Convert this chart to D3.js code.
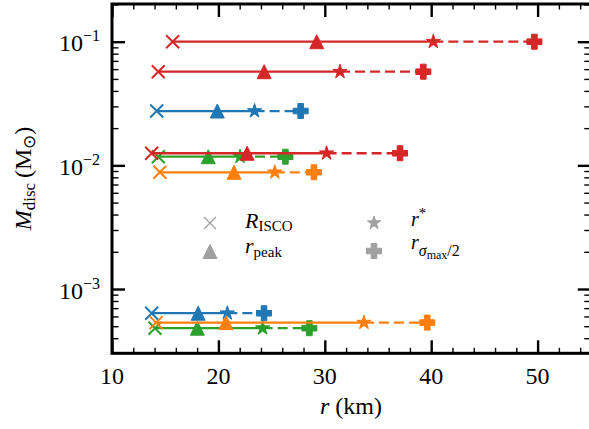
<!DOCTYPE html>
<html>
<head>
<meta charset="utf-8">
<script src="https://cdn.jsdelivr.net/npm/d3@7"></script>
<style>
  body { margin: 0; background: #fff; }
  svg { display: block; }
</style>
</head>
<body>
<svg id="chart" width="589" height="429"></svg>
<script>
// Disc mass against characteristic radii, one row per model.
const palette = { blue: "#1f77b4", orange: "#ff7f0e", green: "#2ca02c", red: "#d62728" };
const rowColors  = ["green", "green", "blue", "blue", "orange", "orange", "red", "red", "red"];
const discMass   = [0.01175, 4.82e-4, 0.0275, 6.37e-4, 0.00879, 5.35e-4, 0.1, 0.0572, 0.01253];
const rISCO      = [14.35, 14.04, 14.2, 13.73, 14.5, 14.14, 15.7, 14.35, 13.73];
const rPeak      = [19.05, 18.02, 19.9, 18.1, 21.47, 20.71, 29.24, 24.3, 22.7];
const rStar      = [22.03, 24.16, 23.4, 20.84, 25.3, 33.68, 40.2, 31.43, 30.17];
const rHalfSigma = [26.3, 28.55, 27.73, 24.29, 28.98, 39.63, 49.7, 39.26, 37.07];
const xTickValues = [10, 20, 30, 40, 50];
const yTickExponents = [-3, -2, -1];

const FONT = '"Liberation Serif", serif';
const svg = d3.select("#chart");
const x = d3.scaleLinear().domain([10, 55]).range([112, 590.8]);
const y = d3.scaleLog().domain([3.02e-4, 0.2018]).range([353.3, 4]);
const [x0, x1] = x.range();
const [y0, y1] = y.range();

// serif text helper
const addText = (parent, size) => parent.append("text")
  .style("font-family", FONT).style("font-size", size + "px").attr("fill", "#000");

// marker shapes centred on the origin
const crossPath = r => `M${-r},${-r}L${r},${r}M${-r},${r}L${r},${-r}`;
const triPath = s => `M0,${-s}L${s},${s}L${-s},${s}Z`;
function starPath(R) {
  const ri = R * 0.381966;
  let p = "";
  for (let i = 0; i < 10; i++) {
    const a = -Math.PI / 2 + i * Math.PI / 5;
    const rr = i % 2 ? ri : R;
    p += (i ? "L" : "M") + (rr * Math.cos(a)).toFixed(2) + "," + (rr * Math.sin(a)).toFixed(2);
  }
  return p + "Z";
}
const plusPath = (h, w) =>
  `M${-w},${-h}H${w}V${-w}H${h}V${w}H${w}V${h}H${-w}V${w}H${-h}V${-w}H${-w}Z`;

const plot = svg.append("g");
rowColors.forEach((c, i) => {
  const col = palette[c];
  const yy = y(discMass[i]);
  plot.append("line")
    .attr("x1", x(rISCO[i])).attr("x2", x(rStar[i]))
    .attr("y1", yy).attr("y2", yy)
    .attr("stroke", col).attr("stroke-width", 2.3);
  plot.append("line")
    .attr("x1", x(rStar[i])).attr("x2", x(rHalfSigma[i]))
    .attr("y1", yy).attr("y2", yy)
    .attr("stroke", col).attr("stroke-width", 2.3)
    .attr("stroke-dasharray", "10,5");
  plot.append("path").attr("d", crossPath(6.5))
    .attr("transform", `translate(${x(rISCO[i])},${yy})`)
    .attr("fill", "none").attr("stroke", col).attr("stroke-width", 2);
  plot.append("path").attr("d", triPath(7))
    .attr("transform", `translate(${x(rPeak[i])},${yy})`)
    .attr("fill", col).attr("stroke", col).attr("stroke-width", 1);
  plot.append("path").attr("d", starPath(7.5))
    .attr("transform", `translate(${x(rStar[i])},${yy})`)
    .attr("fill", col).attr("stroke", col).attr("stroke-width", 1).attr("stroke-linejoin", "round");
  plot.append("path").attr("d", plusPath(7.5, 2.8))
    .attr("transform", `translate(${x(rHalfSigma[i])},${yy})`)
    .attr("fill", col).attr("stroke", col).attr("stroke-width", 1).attr("stroke-linejoin", "round");
});

// ticks (inward, on all four sides)
const xMinor = d3.range(10, 56, 2).filter(v => v % 10 !== 0);
const yMajor = yTickExponents.map(e => Math.pow(10, e));
const yMinor = [];
[-4, -3, -2, -1].forEach(e => {
  for (let k = 2; k <= 9; k++) {
    const v = k * Math.pow(10, e);
    if (v >= y.domain()[0] && v <= y.domain()[1]) yMinor.push(v);
  }
});

function tickSet(axisFn, scale, vals, len, width, translate) {
  const g = svg.append("g").attr("transform", translate)
    .call(axisFn(scale).tickValues(vals).tickSizeInner(-len).tickSizeOuter(0).tickFormat(""));
  g.select(".domain").remove();
  g.selectAll("line").attr("stroke", "#000").attr("stroke-width", width);
}
tickSet(d3.axisBottom, x, xTickValues, 13, 2.4, `translate(0,${y0})`);
tickSet(d3.axisBottom, x, xMinor, 5.5, 1.4, `translate(0,${y0})`);
tickSet(d3.axisTop, x, xTickValues, 13, 2.4, `translate(0,${y1})`);
tickSet(d3.axisTop, x, xMinor, 5.5, 1.4, `translate(0,${y1})`);
tickSet(d3.axisLeft, y, yMajor, 13, 2.4, `translate(${x0},0)`);
tickSet(d3.axisLeft, y, yMinor, 6.5, 1.4, `translate(${x0},0)`);
tickSet(d3.axisRight, y, yMajor, 13, 2.4, `translate(${x1},0)`);
tickSet(d3.axisRight, y, yMinor, 6.5, 1.4, `translate(${x1},0)`);

// frame
svg.append("rect")
  .attr("x", x0).attr("y", y1).attr("width", x1 - x0).attr("height", y0 - y1)
  .attr("fill", "none").attr("stroke", "#000").attr("stroke-width", 3);

// tick labels
xTickValues.forEach(v => {
  addText(svg, 24).attr("x", x(v)).attr("y", 383.5).attr("text-anchor", "middle").text(v);
});

yTickExponents.forEach(e => {
  const t = addText(svg, 24).attr("x", 100).attr("y", y(Math.pow(10, e)) + 9.5)
    .attr("text-anchor", "end");
  t.append("tspan").text("10");
  t.append("tspan").attr("dy", -10).style("font-size", "16px").text("\u2212" + Math.abs(e));
});

// axis titles
const xt = addText(svg, 24).attr("x", 351).attr("y", 414).attr("text-anchor", "middle");
xt.append("tspan").style("font-style", "italic").text("r");
xt.append("tspan").text(" (km)");

const yt = addText(svg, 24).attr("transform", "translate(31,178.5) rotate(-90)")
  .attr("text-anchor", "middle");
yt.append("tspan").style("font-style", "italic").text("M");
yt.append("tspan").attr("dy", 4).style("font-size", "17px").text("disc");
yt.append("tspan").attr("dy", -4).text("\u2009(M");
yt.append("tspan").attr("dy", 4).style("font-size", "17px").text("\u2299");
yt.append("tspan").attr("dy", -4).text(")");

// legend
const grey = "#a0a0a0";
const lg = svg.append("g");
lg.append("path").attr("d", crossPath(6)).attr("transform", "translate(210,223)")
  .attr("fill", "none").attr("stroke", grey).attr("stroke-width", 1.3);
lg.append("path").attr("d", triPath(7)).attr("transform", "translate(210,251.5)")
  .attr("fill", grey).attr("stroke", grey).attr("stroke-width", 1);
lg.append("path").attr("d", starPath(7)).attr("transform", "translate(374,223)")
  .attr("fill", grey).attr("stroke", grey).attr("stroke-width", 1).attr("stroke-linejoin", "round");
lg.append("path").attr("d", plusPath(7.5, 2.8)).attr("transform", "translate(374,251)")
  .attr("fill", grey).attr("stroke", grey).attr("stroke-width", 1).attr("stroke-linejoin", "round");

const l1 = addText(lg, 22).attr("x", 245).attr("y", 228);
l1.append("tspan").style("font-style", "italic").text("R");
l1.append("tspan").attr("dy", 3).style("font-size", "15px").text("ISCO");

const l2 = addText(lg, 22).attr("x", 245).attr("y", 253);
l2.append("tspan").style("font-style", "italic").text("r");
l2.append("tspan").attr("dy", 4).style("font-size", "15px").text("peak");

const l3 = addText(lg, 20).attr("x", 411).attr("y", 226);
l3.append("tspan").style("font-style", "italic").text("r");
l3.append("tspan").attr("dy", -8).style("font-size", "15px").text("*");

const l4 = addText(lg, 20).attr("x", 411).attr("y", 249);
l4.append("tspan").style("font-style", "italic").text("r");
l4.append("tspan").attr("dy", 7).style("font-size", "16px").style("font-style", "italic").text("\u03c3");
l4.append("tspan").attr("dy", 3).style("font-size", "12px").text("max");
l4.append("tspan").attr("dy", -3).style("font-size", "16px").text("/2");
</script>
</body>
</html>
